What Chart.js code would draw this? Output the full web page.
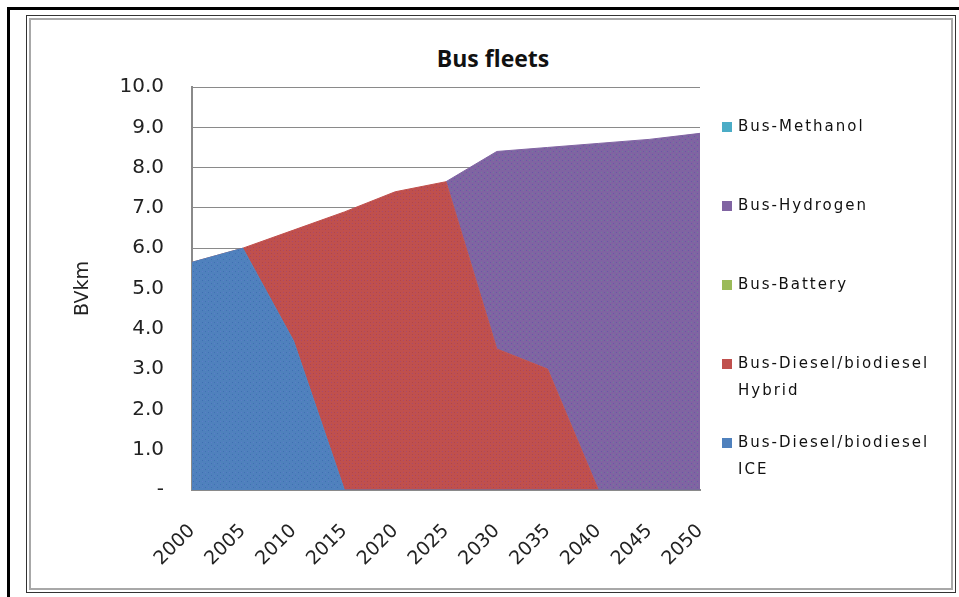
<!DOCTYPE html>
<html>
<head>
<meta charset="utf-8">
<title>Bus fleets</title>
<script src="https://cdn.jsdelivr.net/npm/chart.js@4.4.0/dist/chart.umd.min.js"></script>
<style>
    html, body { margin: 0; padding: 0; background: #fff; }
    body { width: 959px; height: 597px; position: relative; overflow: hidden; font-family: 'DejaVu Sans', sans-serif; }
    #outer { position: absolute; left: 7px; top: 7px; width: 970px; height: 610px; border-left: 3px solid #000; border-top: 3px solid #000; }
    #frame { position: absolute; left: 26px; top: 15px; width: 928px; height: 576px; border: 1px solid #333; }
    #frame .inner { position: absolute; left: 2px; top: 2px; right: 2px; bottom: 2px; border: 2px solid #a8a8a8; }
    #chartBox { position: absolute; left: 0; top: 0; width: 959px; height: 597px; }
    #title { position: absolute; left: 393px; width: 200px; top: 42px; text-align: center; font: bold 23px 'Open Sans', sans-serif; color: #111; }
    #legend { position: absolute; left: 720px; top: 113px; }
    .item { position: absolute; left: 0; width: 230px; }
    .item .box { position: absolute; left: 2px; top: 9px; width: 10px; height: 10px; }
    .item .txt { position: absolute; left: 18px; width: 210px; font-size: 15px; line-height: 27px; letter-spacing: 2px; color: #111; }
</style>
</head>
<body>
<div id="outer"></div>
<div id="frame"><div class="inner"></div></div>
<div id="title">Bus fleets</div>
<div id="chartBox"><canvas id="busChart" width="959" height="597"></canvas></div>
<div id="legend"></div>

<script>
// Years on the category axis
const years = ['2000', '2005', '2010', '2015', '2020', '2025', '2030', '2035', '2040', '2045', '2050'];

// BVkm per technology, read off the stacked areas (null = series not present yet)
const dieselIce    = [5.65, 6.0, 3.7, 0, 0, 0, 0, 0, 0, 0, 0];
const dieselHybrid = [0, 0, 2.75, 6.9, 7.4, 7.65, 3.5, 3.0, 0, 0, 0];
const battery      = [0, 0, 0, 0, 0, 0, 0, 0, 0, 0, 0];
const hydrogen     = [null, null, null, null, null, 0, 4.9, 5.5, 8.6, 8.7, 8.85];
const methanol     = [0, 0, 0, 0, 0, 0, 0, 0, 0, 0, 0];

const seriesNames = ['Bus-Diesel/biodiesel ICE', 'Bus-Diesel/biodiesel Hybrid', 'Bus-Battery', 'Bus-Hydrogen', 'Bus-Methanol'];
const seriesData = [dieselIce, dieselHybrid, battery, hydrogen, methanol];
const seriesColors = ['#4f81bd', '#c0504d', '#9bbb59', '#8064a2', '#4bacc6'];
const dotColors = [
    ['#3f6fb2', '#5b7fc8'],
    ['#b04548', '#a94a70'],
    ['#8aa84e', '#a6c465'],
    ['#6a55a8', '#6f7f9a'],
    ['#3f9bb5', '#5ab8d0']
];

// speckled fill like the Excel export
const makePattern = (base, dots) => {
    const tile = document.createElement('canvas');
    tile.width = 6;
    tile.height = 6;
    const c = tile.getContext('2d');
    c.fillStyle = base;
    c.fillRect(0, 0, 6, 6);
    c.fillStyle = dots[0];
    c.fillRect(1, 1, 1, 1);
    c.fillRect(4, 4, 1, 1);
    c.fillStyle = dots[1];
    c.fillRect(4, 1, 1, 1);
    c.fillRect(1, 4, 1, 1);
    return c.createPattern(tile, 'repeat');
};

const allZero = (d) => d.every(v => !v);

const datasets = seriesData.map((d, i) => ({
    label: seriesNames[i],
    data: d,
    backgroundColor: makePattern(seriesColors[i], dotColors[i]),
    borderColor: seriesColors[i],
    borderWidth: allZero(d) ? 0 : 1,
    fill: allZero(d) ? false : (i === 0 ? 'origin' : '-1'),
    pointRadius: 0,
    tension: 0
}));

const chart = new Chart(document.getElementById('busChart').getContext('2d'), {
    type: 'line',
    data: { labels: years, datasets: datasets },
    options: {
        responsive: false,
        animation: false,
        layout: { padding: { left: 72, right: 259, top: 87, bottom: 17 } },
        plugins: {
            legend: { display: false },
            tooltip: { enabled: false }
        },
        scales: {
            x: {
                offset: false,
                z: 1,
                grid: { display: false, drawTicks: false },
                border: { display: true, color: '#8a8a8a', width: 2 },
                ticks: {
                    autoSkip: false,
                    minRotation: 45,
                    maxRotation: 45,
                    padding: 30,
                    color: '#222',
                    font: { family: "'DejaVu Sans', sans-serif", size: 19 }
                },
                afterFit: (scale) => { scale.height = 90; }
            },
            y: {
                stacked: true,
                min: 0,
                max: 10,
                grid: { color: '#8a8a8a', lineWidth: 1, drawTicks: false },
                border: { display: true, color: '#8a8a8a', width: 2 },
                ticks: {
                    stepSize: 1,
                    padding: 28,
                    color: '#222',
                    font: { family: "'DejaVu Sans', sans-serif", size: 20 },
                    callback: (val) => val === 0 ? '-' : Number(val).toFixed(1)
                },
                title: {
                    display: true,
                    text: 'BVkm',
                    color: '#222',
                    padding: 0,
                    font: { family: "'DejaVu Sans', sans-serif", size: 19 }
                },
                afterFit: (scale) => { scale.width = 120; }
            }
        }
    }
});

// Legend in Excel order (top of the stack first), built from the datasets
const legendEl = document.getElementById('legend');
chart.data.datasets.slice().reverse().forEach((ds, idx) => {
    const item = document.createElement('div');
    item.className = 'item';
    item.style.top = (idx * 79) + 'px';
    const box = document.createElement('div');
    box.className = 'box';
    box.style.background = ds.borderColor;
    const txt = document.createElement('div');
    txt.className = 'txt';
    txt.textContent = ds.label;
    item.appendChild(box);
    item.appendChild(txt);
    legendEl.appendChild(item);
});
</script>
</body>
</html>
